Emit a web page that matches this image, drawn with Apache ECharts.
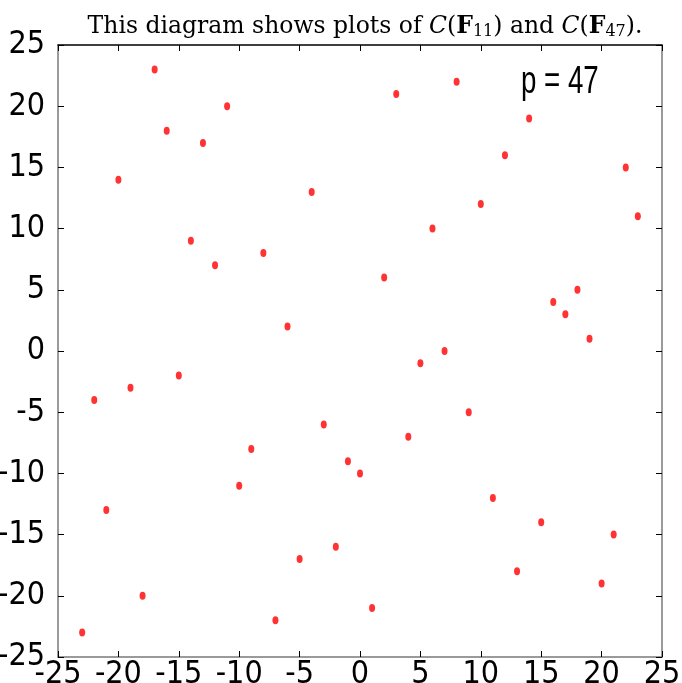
<!DOCTYPE html>
<html><head><meta charset="utf-8">
<script src="https://cdn.jsdelivr.net/npm/echarts@6/dist/echarts.min.js"></script>
<style>html,body{margin:0;padding:0;background:#fff}#c{width:682px;height:683px}</style>
</head><body><div id="c"></div>
<script>
const xValues = [-23,-22,-21,-20,-19,-18,-17,-16,-15,-14,-13,-12,-11,-10,-9,-8,-7,-6,-5,-4,-3,-2,-1,0,1,2,3,4,5,6,7,8,9,10,11,12,13,14,15,16,17,18,19,20,21,22,23];
const yValues = [-23,-4,-13,14,-3,-20,23,18,-2,9,17,7,20,-11,-8,8,-22,2,-17,13,-6,-16,-9,-10,-21,6,21,-7,-1,10,0,22,-5,12,-12,16,-18,19,-14,4,3,5,1,-19,-15,15,11];
const axisMin = -25, axisMax = 25, tickStep = 5;
const annotation = 'p = 47';

const pts = xValues.map((x, i) => [x, yValues[i]]);
const serif = "'DejaVu Serif',serif";
const sans = "'DejaVu Sans',sans-serif";
const chart = echarts.init(document.getElementById('c'), null, {renderer: 'canvas'});
const gray = '#7a7a7a';
const rs = {fontFamily: serif, fontSize: 23.5, color: '#000', lineHeight: 28, fontWeight: 'normal'};
chart.setOption({
  animation: false,
  backgroundColor: '#fff',
  title: [{
    text: '{n|This diagram shows plots of }{c|C}{n|(}{b|F}{s|11}{n|) and }{c|C}{n|(}{b|F}{s|47}{n|).}',
    left: 360, top: 8, textAlign: 'center',
    textStyle: {
      fontWeight: 'normal',
      rich: {
        n: rs,
        c: Object.assign({}, rs, {fontStyle: 'italic'}),
        b: Object.assign({}, rs, {fontWeight: 'bold'}),
        s: Object.assign({}, rs, {fontSize: 16, padding: [10, 0, 0, 0]})
      }
    }
  }],
  graphic: [{
    type: 'text', x: 521, y: 63, scaleX: 0.71, scaleY: 1,
    style: {text: annotation, fontFamily: "'Liberation Sans'", fontSize: 39, fill: '#000', verticalAlign: 'top', align: 'left'}
  }],
  grid: {left: 58, top: 45, right: 20, bottom: 26, containLabel: false, outerBoundsMode: 'none'},
  xAxis: [{
    type: 'value', min: axisMin, max: axisMax, interval: tickStep, position: 'bottom',
    axisLine: {show: true, onZero: false, lineStyle: {color: gray, width: 1.5}},
    axisTick: {show: true, inside: true, length: 6, lineStyle: {color: '#000'}},
    axisLabel: {fontFamily: sans, fontWeight: 'condensed', fontSize: 32, color: '#000', margin: 2},
    splitLine: {show: false}
  }, {
    type: 'value', min: axisMin, max: axisMax, interval: tickStep, position: 'top',
    axisLine: {show: true, onZero: false, lineStyle: {color: '#000', width: 1.5}},
    axisTick: {show: true, inside: true, length: 6, lineStyle: {color: '#000'}},
    axisLabel: {show: false}, splitLine: {show: false}
  }],
  yAxis: [{
    type: 'value', min: axisMin, max: axisMax, interval: tickStep, position: 'left',
    axisLine: {show: true, onZero: false, lineStyle: {color: gray, width: 1.5}},
    axisTick: {show: true, inside: true, length: 6, lineStyle: {color: '#000'}},
    axisLabel: {fontFamily: sans, fontWeight: 'condensed', fontSize: 32, color: '#000', margin: 13},
    splitLine: {show: false}
  }, {
    type: 'value', min: axisMin, max: axisMax, interval: tickStep, position: 'right',
    axisLine: {show: true, onZero: false, lineStyle: {color: gray, width: 1.5}},
    axisTick: {show: true, inside: true, length: 6, lineStyle: {color: '#000'}},
    axisLabel: {show: false}, splitLine: {show: false}
  }],
  series: [{
    type: 'scatter', xAxisIndex: 0, yAxisIndex: 0,
    data: pts, symbol: 'circle', symbolSize: [6, 8],
    itemStyle: {color: '#ff0000'}
  }]
});
</script></body></html>
